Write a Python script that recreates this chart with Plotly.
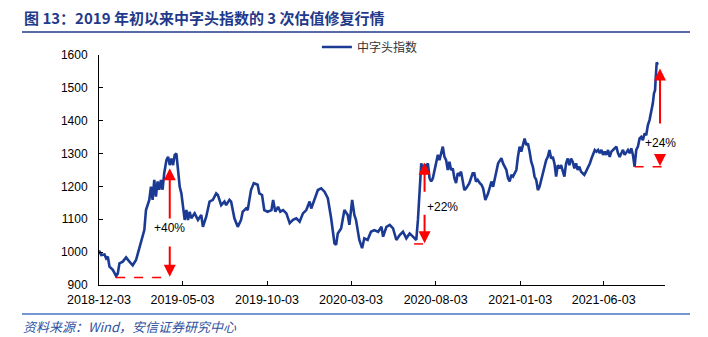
import plotly.graph_objects as go

# ---------------- data ----------------
dates = [
    "2018-12-03", "2018-12-07", "2018-12-13", "2018-12-16", "2018-12-19", "2018-12-22", "2018-12-28", "2019-01-03",
    "2019-01-06", "2019-01-09", "2019-01-15", "2019-01-21", "2019-01-27", "2019-02-02", "2019-02-08", "2019-02-14",
    "2019-02-20", "2019-02-23", "2019-02-26", "2019-03-04", "2019-03-07", "2019-03-10", "2019-03-13", "2019-03-16",
    "2019-03-19", "2019-03-22", "2019-03-25", "2019-03-28", "2019-03-31", "2019-04-04", "2019-04-07", "2019-04-10",
    "2019-04-13", "2019-04-16", "2019-04-19", "2019-04-22", "2019-04-25", "2019-04-28", "2019-05-01", "2019-05-04",
    "2019-05-07", "2019-05-10", "2019-05-13", "2019-05-16", "2019-05-19", "2019-05-25", "2019-05-31", "2019-06-06",
    "2019-06-09", "2019-06-15", "2019-06-21", "2019-06-27", "2019-07-03", "2019-07-06", "2019-07-12", "2019-07-18",
    "2019-07-21", "2019-07-27", "2019-07-30", "2019-08-05", "2019-08-11", "2019-08-17", "2019-08-20", "2019-08-23",
    "2019-08-26", "2019-08-29", "2019-09-01", "2019-09-04", "2019-09-09", "2019-09-16", "2019-09-19", "2019-09-24",
    "2019-09-28", "2019-10-04", "2019-10-11", "2019-10-14", "2019-10-18", "2019-10-23", "2019-10-27", "2019-11-01",
    "2019-11-07", "2019-11-13", "2019-11-19", "2019-11-25", "2019-12-01", "2019-12-07", "2019-12-13", "2019-12-19",
    "2019-12-22", "2019-12-28", "2020-01-03", "2020-01-09", "2020-01-15", "2020-01-21", "2020-01-27", "2020-02-02",
    "2020-02-05", "2020-02-08", "2020-02-14", "2020-02-20", "2020-02-26", "2020-02-29", "2020-03-05", "2020-03-09",
    "2020-03-12", "2020-03-15", "2020-03-18", "2020-03-23", "2020-03-27", "2020-04-02", "2020-04-08", "2020-04-14",
    "2020-04-21", "2020-04-27", "2020-04-30", "2020-05-06", "2020-05-12", "2020-05-18", "2020-05-24", "2020-05-30",
    "2020-06-05", "2020-06-11", "2020-06-17", "2020-06-23", "2020-06-29", "2020-07-02", "2020-07-05", "2020-07-08",
    "2020-07-11", "2020-07-14", "2020-07-17", "2020-07-20", "2020-07-23", "2020-07-26", "2020-07-29", "2020-08-01",
    "2020-08-04", "2020-08-07", "2020-08-10", "2020-08-13", "2020-08-16", "2020-08-19", "2020-08-22", "2020-08-25",
    "2020-08-28", "2020-08-31", "2020-09-03", "2020-09-06", "2020-09-09", "2020-09-12", "2020-09-15", "2020-09-18",
    "2020-09-21", "2020-09-24", "2020-09-27", "2020-10-03", "2020-10-09", "2020-10-12", "2020-10-15", "2020-10-18",
    "2020-10-22", "2020-10-25", "2020-10-28", "2020-11-01", "2020-11-06", "2020-11-12", "2020-11-15", "2020-11-18",
    "2020-11-24", "2020-11-30", "2020-12-03", "2020-12-09", "2020-12-12", "2020-12-15", "2020-12-18", "2020-12-21",
    "2020-12-27", "2020-12-30", "2021-01-02", "2021-01-05", "2021-01-08", "2021-01-11", "2021-01-14", "2021-01-17",
    "2021-01-20", "2021-01-23", "2021-01-26", "2021-01-29", "2021-02-01", "2021-02-04", "2021-02-07", "2021-02-13",
    "2021-02-19", "2021-02-22", "2021-02-25", "2021-02-28", "2021-03-03", "2021-03-06", "2021-03-09", "2021-03-12",
    "2021-03-15", "2021-03-18", "2021-03-21", "2021-03-24", "2021-03-27", "2021-03-30", "2021-04-02", "2021-04-05",
    "2021-04-08", "2021-04-11", "2021-04-14", "2021-04-17", "2021-04-20", "2021-04-23", "2021-04-26", "2021-04-29",
    "2021-05-02", "2021-05-05", "2021-05-09", "2021-05-12", "2021-05-15", "2021-05-18", "2021-05-21", "2021-05-24",
    "2021-05-27", "2021-05-30", "2021-06-02", "2021-06-05", "2021-06-08", "2021-06-11", "2021-06-14", "2021-06-17",
    "2021-06-20", "2021-06-23", "2021-06-26", "2021-06-29", "2021-07-02", "2021-07-05", "2021-07-08", "2021-07-11",
    "2021-07-14", "2021-07-17", "2021-07-20", "2021-07-23", "2021-07-26", "2021-07-29", "2021-08-01", "2021-08-04",
    "2021-08-07", "2021-08-10", "2021-08-13", "2021-08-16", "2021-08-19", "2021-08-22", "2021-08-25", "2021-08-28",
    "2021-08-31", "2021-09-02", "2021-09-04", "2021-09-05", "2021-09-06", "2021-09-07", "2021-09-09",
]

index_values = [
    1005, 991, 993, 981, 986, 956, 946, 927,
    935, 966, 971, 984, 971, 960, 976, 1012,
    1042, 1067, 1128, 1159, 1199, 1159, 1220, 1169,
    1215, 1190, 1220, 1190, 1240, 1280, 1290, 1265,
    1285, 1265, 1296, 1300, 1250, 1199, 1179, 1138,
    1098, 1128, 1098, 1123, 1103, 1118, 1098, 1113,
    1077, 1108, 1154, 1159, 1179, 1174, 1143, 1154,
    1143, 1159, 1154, 1103, 1077, 1098, 1123, 1128,
    1133, 1128, 1159, 1189, 1210, 1205, 1179, 1174,
    1128, 1123, 1128, 1159, 1123, 1138, 1123, 1128,
    1118, 1088, 1098, 1103, 1093, 1118, 1128, 1154,
    1133, 1164, 1189, 1194, 1184, 1164, 1103, 1027,
    1022, 1057, 1072, 1128, 1113, 1083, 1159, 1113,
    1098, 1067, 1037, 1012, 1042, 1037, 1062, 1067,
    1062, 1077, 1047, 1077, 1083, 1072, 1037, 1052,
    1062, 1042, 1057, 1047, 1037, 1098, 1199, 1270,
    1250, 1265, 1260, 1270, 1225, 1215, 1225, 1250,
    1270, 1296, 1280, 1306, 1321, 1290, 1280, 1250,
    1275, 1250, 1255, 1225, 1210, 1240, 1235, 1245,
    1220, 1189, 1194, 1210, 1240, 1240, 1215, 1220,
    1210, 1205, 1194, 1159, 1179, 1215, 1199, 1225,
    1270, 1286, 1270, 1250, 1225, 1215, 1235, 1230,
    1250, 1291, 1321, 1306, 1331, 1346, 1326, 1331,
    1306, 1275, 1260, 1230, 1220, 1189, 1199, 1240,
    1280, 1290, 1311, 1285, 1290, 1270, 1230, 1265,
    1255, 1265, 1250, 1230, 1270, 1285, 1265, 1285,
    1275, 1255, 1270, 1250, 1260, 1245, 1240, 1235,
    1245, 1255, 1270, 1285, 1301, 1311, 1306, 1311,
    1301, 1311, 1296, 1306, 1296, 1311, 1290, 1306,
    1311, 1316, 1321, 1301, 1290, 1301, 1311, 1296,
    1306, 1311, 1301, 1316, 1296, 1260, 1311, 1321,
    1346, 1351, 1341, 1361, 1356, 1387, 1402, 1427,
    1453, 1483, 1493, 1524, 1554, 1578, 1570,
]
assert len(dates) == len(index_values)

series_name = "中字头指数"
tick_dates = ["2018-12-03", "2019-05-03", "2019-10-03", "2020-03-03",
              "2020-08-03", "2021-01-03", "2021-06-03"]
y_ticks = [900, 1000, 1100, 1200, 1300, 1400, 1500, 1600]

# three rallies: dashed base line (start, end, level), arrow date, arrow top, label
rally_labels = ["+40%", "+22%", "+24%"]
rally_base_start = ["2019-01-03", "2020-06-25", "2021-07-29"]
rally_base_end = ["2019-04-10", "2020-07-26", "2021-09-18"]
rally_base_level = [923, 1025, 1260]
rally_arrow_date = ["2019-04-10", "2020-07-14", "2021-09-13"]
rally_top = [1255, 1272, 1559]
rally_up_tail = [1098, 1179, 1387]
rally_down_tail = [1022, 1118, 1296]
rally_label_y = [1072, 1136, 1331]
rally_label_date = ["2019-04-10", "2020-07-14", "2021-09-13"]
rally_label_anchor = ["center", "left", "center"]

title_text = "图 13：2019 年初以来中字头指数的 3 次估值修复行情"
source_text = "资料来源：Wind，安信证券研究中心"

# ---------------- figure ----------------
BLUE = "#1B3A93"
RED = "#FF0000"
FONT = "Liberation Sans, Arial, sans-serif"
CJK = "Noto Sans CJK SC, sans-serif"

# plot-area geometry in pixels (used only to place page decorations)
PL, PR, PT, PB = 99, 665, 55, 285
PW, PH = PR - PL, PB - PT


def px(x):
    return (x - PL) / PW


def py(y):
    return (PB - y) / PH


fig = go.Figure()
fig.add_trace(go.Scatter(
    x=dates, y=index_values, mode="lines", name=series_name,
    line=dict(color=BLUE, width=2.6),
))

shapes = []
annotations = []
for i in range(len(rally_labels)):
    shapes.append(dict(type="line", xref="x", yref="y",
                       x0=rally_base_start[i], x1=rally_base_end[i],
                       y0=rally_base_level[i], y1=rally_base_level[i],
                       line=dict(color=RED, width=1.5, dash="dash")))
    annotations.append(dict(x=rally_arrow_date[i], y=rally_top[i],
                            ax=rally_arrow_date[i], ay=rally_up_tail[i],
                            xref="x", yref="y", axref="x", ayref="y",
                            text="", showarrow=True, arrowhead=2, arrowsize=1.2,
                            arrowwidth=2, arrowcolor=RED))
    annotations.append(dict(x=rally_arrow_date[i], y=rally_base_level[i] + 2,
                            ax=rally_arrow_date[i], ay=rally_down_tail[i],
                            xref="x", yref="y", axref="x", ayref="y",
                            text="", showarrow=True, arrowhead=2, arrowsize=1.2,
                            arrowwidth=2, arrowcolor=RED))
    annotations.append(dict(x=rally_label_date[i], y=rally_label_y[i],
                            xref="x", yref="y", text=rally_labels[i],
                            xanchor=rally_label_anchor[i],
                            showarrow=False, font=dict(family=FONT, size=12, color="#000000")))

# title, rules and source
annotations.append(dict(x=px(22), y=py(17), xref="paper", yref="paper",
                        text="<b>" + title_text + "</b>", showarrow=False,
                        xanchor="left", yanchor="middle",
                        font=dict(family=CJK, size=15, color="#1F3A8A")))
annotations.append(dict(x=px(21), y=py(326), xref="paper", yref="paper",
                        text="<i>" + source_text + "</i>", showarrow=False,
                        xanchor="left", yanchor="middle",
                        font=dict(family=CJK, size=13, color="#2F52A0")))
shapes.append(dict(type="line", xref="paper", yref="paper",
                   x0=px(22), x1=px(690), y0=py(32), y1=py(32),
                   line=dict(color="#1F3A8A", width=1.5)))
shapes.append(dict(type="line", xref="paper", yref="paper",
                   x0=px(22), x1=px(690), y0=py(314), y1=py(314),
                   line=dict(color="#4A72C0", width=1.5)))

fig.update_layout(
    width=708, height=337,
    margin=dict(l=PL, r=708 - PR, t=PT, b=337 - PB),
    paper_bgcolor="white", plot_bgcolor="white",
    font=dict(family=FONT, size=12, color="#000000"),
    showlegend=True,
    legend=dict(orientation="h", x=0.385, y=py(47), xanchor="left", yanchor="middle",
                bgcolor="rgba(0,0,0,0)", font=dict(family=CJK, size=12, color="#333333")),
    shapes=shapes, annotations=annotations,
)
fig.update_xaxes(
    type="date", range=["2018-12-03", "2021-09-22"],
    tickvals=tick_dates, ticktext=tick_dates,
    showline=True, linecolor="#000000", linewidth=1,
    ticks="inside", ticklen=4, tickcolor="#000000",
    showgrid=False, zeroline=False,
    ticklabelstandoff=3,
    tickfont=dict(family=FONT, size=12.5, color="#000000"),
)
fig.update_yaxes(
    range=[900, 1600], tickvals=y_ticks,
    showline=True, linecolor="#000000", linewidth=1,
    ticks="inside", ticklen=4, tickcolor="#000000",
    showgrid=False, zeroline=False,
    ticklabelstandoff=8,
    tickfont=dict(family=FONT, size=12, color="#000000"),
)

fig.write_html("out.html")
